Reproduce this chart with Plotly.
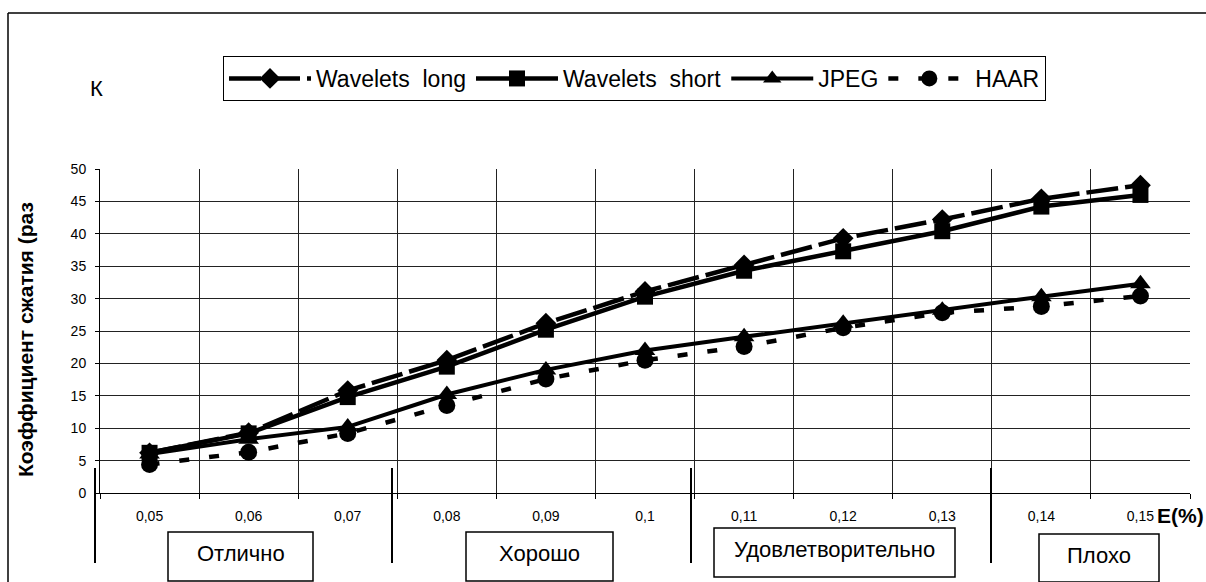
import plotly.graph_objects as go

# E(%) categories and compression ratios
x_labels = ["0,05", "0,06", "0,07", "0,08", "0,09", "0,1",
            "0,11", "0,12", "0,13", "0,14", "0,15"]
wavelets_long = [6.2, 9.3, 15.8, 20.5, 26.2, 31.1, 35.2, 39.3, 42.2, 45.4, 47.5]
wavelets_short = [6.2, 9.2, 14.8, 19.5, 25.2, 30.3, 34.3, 37.3, 40.4, 44.2, 46.0]
jpeg = [6.0, 8.3, 10.2, 15.2, 19.0, 22.0, 24.1, 26.2, 28.2, 30.3, 32.3]
haar = [4.4, 6.3, 9.2, 13.5, 17.6, 20.5, 22.6, 25.5, 27.8, 28.8, 30.4]

# quality zones under the axis
zone_labels = ["Отлично", "Хорошо", "Удовлетворительно", "Плохо"]

W, H = 1206, 582
ML, MR, MT, MB = 100, 16, 169, 89
PW, PH = W - ML - MR, H - MT - MB


def px(xp):
    return (xp - ML) / PW


def py(yp):
    return (H - MB - yp) / PH


FONT = "Arial, Liberation Sans, sans-serif"
xi = list(range(len(x_labels)))

fig = go.Figure()
fig.add_trace(go.Scatter(
    x=xi, y=wavelets_long, name="Wavelets  long", mode="lines+markers",
    line=dict(color="black", width=4.5, dash="32px,7px"),
    marker=dict(symbol="diamond", size=16, color="black")))
fig.add_trace(go.Scatter(
    x=xi, y=wavelets_short, name="Wavelets  short", mode="lines+markers",
    line=dict(color="black", width=4.5),
    marker=dict(symbol="square", size=16, color="black")))
fig.add_trace(go.Scatter(
    x=xi, y=jpeg, name="JPEG", mode="lines+markers",
    line=dict(color="black", width=4),
    marker=dict(symbol="triangle-up", size=18, color="black")))
fig.add_trace(go.Scatter(
    x=xi, y=haar, name="HAAR", mode="lines+markers",
    line=dict(color="black", width=4.5, dash="10px,20px"),
    marker=dict(symbol="circle", size=17, color="black")))

fig.update_xaxes(
    range=[-0.5, len(x_labels) - 0.5],
    tickmode="array", tickvals=xi, ticktext=x_labels, ticks="",
    showgrid=False, zeroline=False,
    showline=True, linecolor="black", linewidth=1,
    ticklabelstandoff=10,
    tickfont=dict(family=FONT, size=14, color="black"),
    minor=dict(tickmode="array",
               tickvals=[i - 0.5 for i in range(len(x_labels) + 1)],
               ticks="outside", ticklen=5, tickcolor="black",
               showgrid=True, gridcolor="#222", gridwidth=1),
)
fig.update_yaxes(
    range=[0, 50], tickmode="linear", tick0=0, dtick=5,
    ticks="outside", ticklen=4, tickcolor="black",
    showgrid=True, gridcolor="#222", gridwidth=1, zeroline=False,
    showline=True, linecolor="black", linewidth=1,
    ticklabelstandoff=6,
    tickfont=dict(family=FONT, size=14, color="black"),
)

shapes = []
# outer frame: top and left edges (the rest runs off the page)
shapes.append(dict(type="line", xref="paper", yref="paper",
                   x0=px(8), x1=px(1206), y0=py(13), y1=py(13),
                   line=dict(color="black", width=1.5)))
shapes.append(dict(type="line", xref="paper", yref="paper",
                   x0=px(8), x1=px(8), y0=py(13), y1=py(582),
                   line=dict(color="black", width=1.5)))
# zone separators
for sx in [95, 392, 691, 991]:
    shapes.append(dict(type="line", xref="paper", yref="paper",
                       x0=px(sx), x1=px(sx), y0=py(468), y1=py(563),
                       line=dict(color="black", width=2)))
# zone boxes
zone_boxes = [(168, 313, 532, 581), (466, 613, 532, 581),
              (714, 955, 528, 577), (1039, 1159, 534, 582)]
annotations = []
for (x0, x1, y0, y1), lab in zip(zone_boxes, zone_labels):
    shapes.append(dict(type="rect", xref="paper", yref="paper",
                       x0=px(x0), x1=px(x1), y0=py(y0), y1=py(y1),
                       line=dict(color="black", width=1.5)))
    annotations.append(dict(text=lab, xref="paper", yref="paper",
                            x=px((x0 + x1) / 2), y=py((y0 + y1) / 2 - 3),
                            xanchor="center", yanchor="middle", showarrow=False,
                            font=dict(family=FONT, size=22, color="black")))

annotations += [
    dict(text="К", xref="paper", yref="paper", x=px(96), y=py(88),
         xanchor="center", yanchor="middle", showarrow=False,
         font=dict(family=FONT, size=22, color="black")),
    dict(text="<b>E(%)</b>", xref="paper", yref="paper", x=px(1180), y=py(515),
         xanchor="center", yanchor="middle", showarrow=False,
         font=dict(family=FONT, size=21, color="black")),
    dict(text="<b>Коэффициент сжатия (раз</b>", xref="paper", yref="paper",
         x=px(25), y=py(340), textangle=-90,
         xanchor="center", yanchor="middle", showarrow=False,
         font=dict(family=FONT, size=21, color="black")),
]

fig.update_layout(
    width=W, height=H,
    margin=dict(l=ML, r=MR, t=MT, b=MB, pad=0),
    paper_bgcolor="white", plot_bgcolor="white",
    font=dict(family=FONT, color="black"),
    showlegend=True,
    legend=dict(orientation="h", x=px(223), y=py(56),
                xanchor="left", yanchor="top",
                bordercolor="black", borderwidth=1, bgcolor="white",
                itemwidth=82, tracegroupgap=0,
                font=dict(family=FONT, size=23, color="black")),
    shapes=shapes, annotations=annotations,
)

fig.write_html("out.html")
